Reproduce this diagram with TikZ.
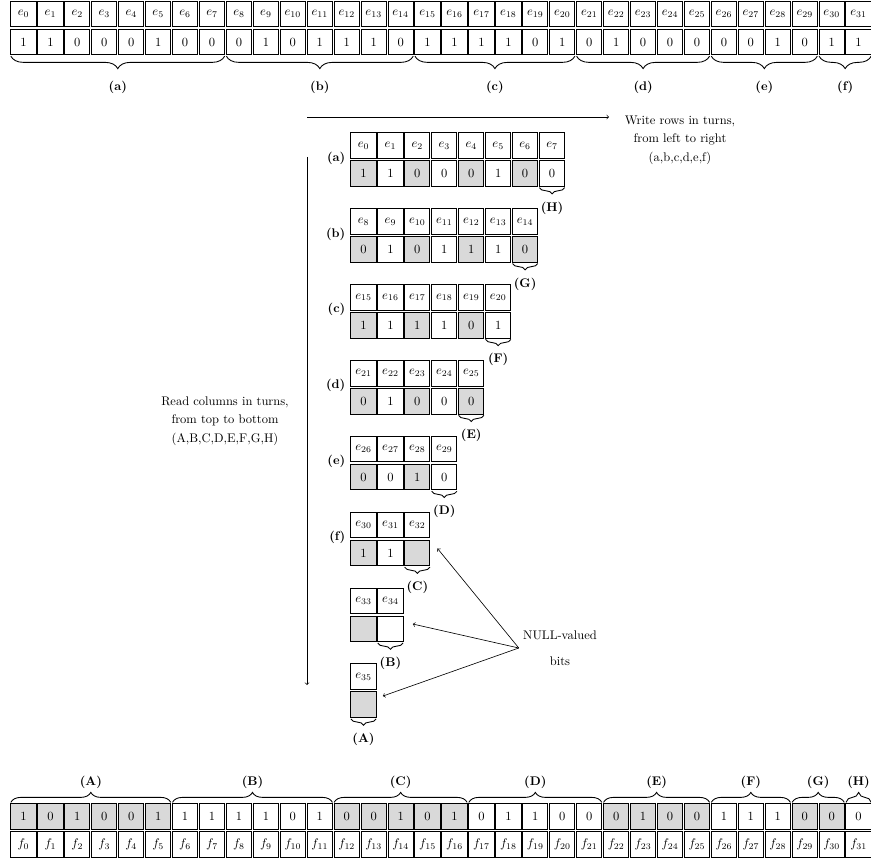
\documentclass[tikz,border=0pt]{standalone}
\usepackage{amsmath}
\usepackage{xcolor}
\usepackage{tikz}
\usetikzlibrary{arrows.meta,positioning,calc,decorations.pathreplacing}
\colorlet{nullGray}{black!15}
\newcommand{\nul}{}

\begin{document}
\begin{tikzpicture}[
  x=.8pt, y=-.8pt,
  >=to,
  cell/.style={draw, line width=.8pt, minimum width=20.2pt, minimum height=20.6pt,
    inner sep=0pt, outer sep=0pt},
  tag/.style={font=\bfseries, inner sep=2pt},
  note/.style={align=center},
  grp/.style={decorate, decoration={brace, amplitude=#1}, line width=.7pt},
  grpdown/.style={decorate, decoration={brace, mirror, amplitude=#1}, line width=.7pt},
  flow/.style={->, line width=.5pt}
]
  \useasboundingbox (0,0) rectangle (871,863);
  % input bits, rows (a)-(f)
  \foreach \lab/\first/\last/\vals in {a/0/7/{1,1,0,0,0,1,0,0}, b/8/14/{0,1,0,1,1,1,0},
      c/15/20/{1,1,1,1,0,1}, d/21/25/{0,1,0,0,0}, e/26/29/{0,0,1,0}, f/30/31/{1,1}}{
    \foreach \v [count=\k from \first] in \vals{
      \node[cell] (tE\k) at ({23.47+26.94*\k},14) {$e_{\k}$};
      \node[cell] (tV\k) at ({23.47+26.94*\k},42) {\v};
    }
    \draw[grpdown=10pt] ([yshift=-1pt]tV\first.south west) -- ([yshift=-1pt]tV\last.south east)
      node[tag, midway, below=18pt] (tL\lab) {(\lab)};
  }
  % rows written one under the other
  \foreach \r/\first/\last/\vals/\rd in {0/0/7/{1,1,0,0,0,1,0,0}/H, 1/8/14/{0,1,0,1,1,1,0}/G,
      2/15/20/{1,1,1,1,0,1}/F, 3/21/25/{0,1,0,0,0}/E, 4/26/29/{0,0,1,0}/D,
      5/30/32/{1,1,\nul}/C, 6/33/34/{\nul,\nul}/B, 7/35/35/{\nul}/A}{
    \foreach \v [count=\col from 0, evaluate=\col as \k using int(\first+\col)] in \vals{
      \ifodd\col\relax \colorlet{bitFill}{white}\else \colorlet{bitFill}{nullGray}\fi
      \node[cell] (mE\k) at ({363.47+26.94*\col},{145.5+75.9*\r}) {$e_{\k}$};
      \node[cell, fill=bitFill] (mV\k) at ({363.47+26.94*\col},{173.5+75.9*\r}) {\v};
    }
    \draw[grpdown=5pt] ([yshift=-1pt]mV\last.south west) -- ([yshift=-1pt]mV\last.south east)
      node[tag, midway, below=9pt] (mL\rd) {(\rd)};
  }
  \foreach \r/\lab in {0/a, 1/b, 2/c, 3/d, 4/e, 5/f}
    \node[tag, anchor=east] (mR\lab) at (348,{158+75.9*\r}) {(\lab)};
  % output bits, columns (A)-(H)
  \foreach \lab/\first/\last/\vals/\fil in {A/0/5/{1,0,1,0,0,1}/nullGray, B/6/11/{1,1,1,1,0,1}/white,
      C/12/16/{0,0,1,0,1}/nullGray, D/17/21/{0,1,1,0,0}/white, E/22/25/{0,1,0,0}/nullGray,
      F/26/28/{1,1,1}/white, G/29/30/{0,0}/nullGray, H/31/31/{0}/white}{
    \foreach \v [count=\k from \first] in \vals{
      \node[cell, fill=\fil] (bV\k) at ({23.47+26.94*\k},816.5) {\v};
      \node[cell] (bF\k) at ({23.47+26.94*\k},844.5) {$f_{\k}$};
    }
    \draw[grp=8pt] ([yshift=1pt]bV\first.north west) -- ([yshift=1pt]bV\last.north east)
      node[tag, midway, above=9pt] (bL\lab) {(\lab)};
  }
  \coordinate (wrS) at (307,117);
  \coordinate (wrE) at (609,117);
  \draw[flow] (wrS) -- (wrE);
  \node[note] (wrTxt) at (680,140) {Write rows in turns,\\[2.8pt] from left to right\\[2.8pt] (a,b,c,d,e,f)};
  \coordinate (rdS) at (307,157);
  \coordinate (rdE) at (307,685);
  \draw[flow] (rdS) -- (rdE);
  \node[note] (rdTxt) at (225,421) {Read columns in turns,\\[2.8pt] from top to bottom\\[2.8pt] (A,B,C,D,E,F,G,H)};
  \node[note] (nul) at (560,648) {NULL-valued\\[8.8pt] bits};
  \coordinate (n32) at ($(mV32.east)+(6pt,3.6pt)$);
  \coordinate (n34) at ($(mV34.east)+(7.8pt,3.9pt)$);
  \coordinate (n35) at ($(mV35.east)+(5.4pt,7pt)$);
  \foreach \t in {n32,n34,n35}
    \draw[flow] (nul.west) -- (\t);
\end{tikzpicture}
\end{document}
